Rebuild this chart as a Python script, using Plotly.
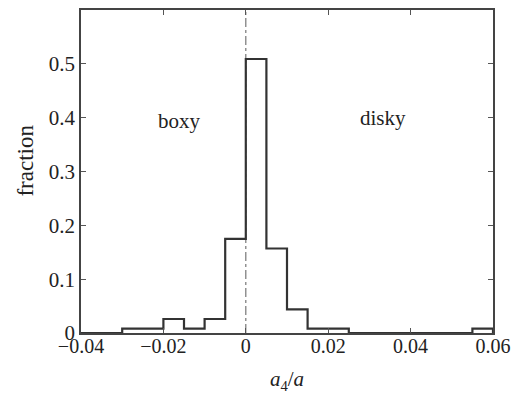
import plotly.graph_objects as go

# Histogram data (bin width 0.005)
bin_left = [-0.04, -0.035, -0.03, -0.025, -0.02, -0.015, -0.01, -0.005,
            0.0, 0.005, 0.01, 0.015, 0.02, 0.025, 0.03, 0.035, 0.04,
            0.045, 0.05, 0.055]
bin_right_end = 0.06
fraction = [0.0, 0.0, 0.008, 0.008, 0.026, 0.008, 0.026, 0.175,
            0.509, 0.157, 0.044, 0.008, 0.008, 0.0, 0.0, 0.0, 0.0,
            0.0, 0.0, 0.008]

x_ticks = [-0.04, -0.02, 0, 0.02, 0.04, 0.06]
x_ticklabels = ["−0.04", "−0.02", "0", "0.02", "0.04", "0.06"]
y_ticks = [0, 0.1, 0.2, 0.3, 0.4, 0.5]
y_ticklabels = ["0", "0.1", "0.2", "0.3", "0.4", "0.5"]

region_labels = ["boxy", "disky"]
region_x = [-0.016, 0.0334]
region_y = [0.394, 0.40]

xs = bin_left + [bin_right_end, bin_right_end]
ys = fraction + [fraction[-1], 0.0]

FONT = "Liberation Serif"
DARK = "#333333"

fig = go.Figure()
fig.add_trace(go.Scatter(x=xs, y=ys, mode="lines", line_shape="hv",
                         line=dict(color=DARK, width=2.2), hoverinfo="skip",
                         showlegend=False))

fig.add_shape(type="line", x0=0, x1=0, y0=0, y1=0.6, xref="x", yref="y",
              line=dict(color="#777777", width=1.2, dash="dashdot"), layer="below")

for t, x, y in zip(region_labels, region_x, region_y):
    fig.add_annotation(x=x, y=y, text=t, showarrow=False,
                       font=dict(family=FONT, size=21, color="#222222"))

# y-axis title placed as an annotation (sits slightly above centre in the reference)
fig.add_annotation(x=-0.135, y=0.535, xref="paper", yref="paper", text="fraction",
                   textangle=-90, showarrow=False, xanchor="center", yanchor="middle",
                   font=dict(family=FONT, size=23, color="#222222"))

fig.update_layout(
    width=511, height=401,
    margin=dict(l=81, r=18, t=10, b=68, autoexpand=False),
    paper_bgcolor="white", plot_bgcolor="white",
    font=dict(family=FONT, size=21, color="#222222"),
    showlegend=False,
)
fig.update_xaxes(range=[-0.04, 0.06], tickvals=x_ticks, ticktext=x_ticklabels,
                 ticks="inside", ticklen=5, tickcolor="#555555", tickwidth=1,
                 tickfont=dict(family=FONT, size=20), ticklabeloverflow="allow",
                 ticklabelstandoff=-6, automargin=False,
                 showgrid=False, zeroline=False, showline=True, linecolor="#444444",
                 linewidth=1.6, mirror="ticks",
                 title=dict(text="<i>a</i><sub>4</sub>/<i>a</i>", standoff=16,
                            font=dict(family=FONT, size=21)))
fig.update_yaxes(range=[0, 0.6], tickvals=y_ticks, ticktext=y_ticklabels,
                 ticks="inside", ticklen=5, tickcolor="#555555", tickwidth=1,
                 tickfont=dict(family=FONT, size=21), automargin=False,
                 showgrid=False, zeroline=False, showline=True, linecolor="#444444",
                 linewidth=1.6, mirror="ticks")

fig.write_html("out.html")
